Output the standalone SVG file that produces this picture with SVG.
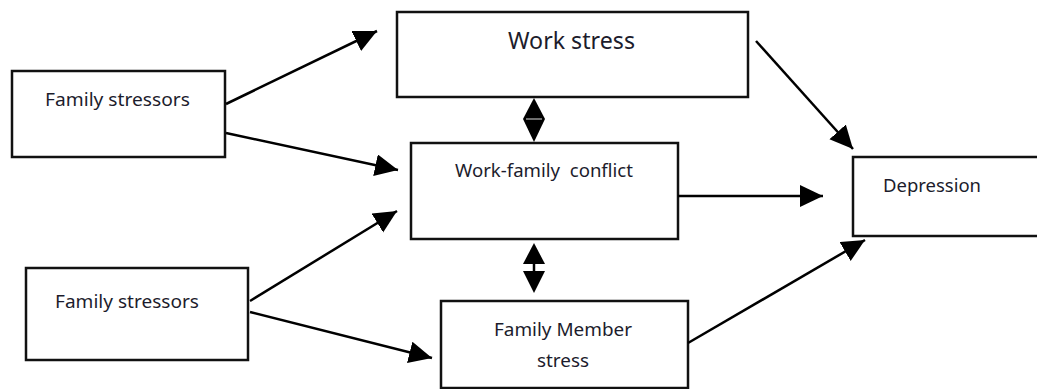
<svg xmlns="http://www.w3.org/2000/svg" width="1037" height="389" viewBox="0 0 1037 389">
<style>
.box{fill:#fff;stroke:#111;stroke-width:2.5}
.t{font-family:"Noto Sans","Open Sans",sans-serif;font-size:18px;fill:#1c1c2c}
.big{font-size:23px}
.c{stroke:#000;stroke-width:2.5;fill:none}
.h{fill:#000;stroke:none}
</style>
<defs>
<marker id="ah" markerUnits="userSpaceOnUse" markerWidth="26" markerHeight="24" refX="23" refY="11" orient="auto" viewBox="0 0 26 24">
<path d="M0,0 L23,11 L0,22 z" fill="#000"/>
</marker>
</defs>
<rect width="1037" height="389" fill="#fff"/>
<g id="family-stressors-1">
<rect class="box" x="12" y="71" width="213" height="86"/>
<text class="t" x="45" y="106" textLength="145" lengthAdjust="spacingAndGlyphs">Family stressors</text>
</g>
<g id="family-stressors-2">
<rect class="box" x="26" y="268" width="222" height="92"/>
<text class="t" x="55" y="308" textLength="144" lengthAdjust="spacingAndGlyphs">Family stressors</text>
</g>
<g id="work-stress">
<rect class="box" x="397" y="12" width="351" height="85"/>
<text class="t big" x="508" y="49" textLength="127" lengthAdjust="spacingAndGlyphs">Work stress</text>
</g>
<g id="work-family-conflict">
<rect class="box" x="411" y="143" width="267" height="96"/>
<text class="t" x="455" y="177" textLength="178" lengthAdjust="spacingAndGlyphs" xml:space="preserve">Work-family  conflict</text>
</g>
<g id="family-member-stress">
<rect class="box" x="441" y="301" width="247" height="87"/>
<text class="t" x="494" y="336" textLength="138" lengthAdjust="spacingAndGlyphs">Family Member</text>
<text class="t" x="537" y="367" textLength="52" lengthAdjust="spacingAndGlyphs">stress</text>
</g>
<g id="depression">
<rect class="box" x="853" y="157" width="190" height="79"/>
<text class="t" x="883" y="192" textLength="98" lengthAdjust="spacingAndGlyphs">Depression</text>
</g>
<g id="connectors">
<line class="c" x1="226" y1="104" x2="377" y2="31" marker-end="url(#ah)"/>
<line class="c" x1="226" y1="133" x2="398" y2="170" marker-end="url(#ah)"/>
<line class="c" x1="250" y1="301" x2="397" y2="211" marker-end="url(#ah)"/>
<line class="c" x1="250" y1="312" x2="432" y2="358" marker-end="url(#ah)"/>
<line class="c" x1="756" y1="41" x2="853" y2="149" marker-end="url(#ah)"/>
<line class="c" x1="678" y1="196" x2="823" y2="196" marker-end="url(#ah)"/>
<line class="c" x1="688" y1="343" x2="865" y2="240" marker-end="url(#ah)"/>
<polygon class="h" points="534,98 523,119 545,119"/>
<polygon class="h" points="523,119 545,119 534,142"/>
<line x1="526" y1="119" x2="542" y2="119" stroke="#ddd" stroke-width="1"/>
<line class="c" x1="534" y1="262" x2="534" y2="273"/>
<polygon class="h" points="534,243 523,264 545,264"/>
<polygon class="h" points="523,271 545,271 534,293"/>
</g>
</svg>
